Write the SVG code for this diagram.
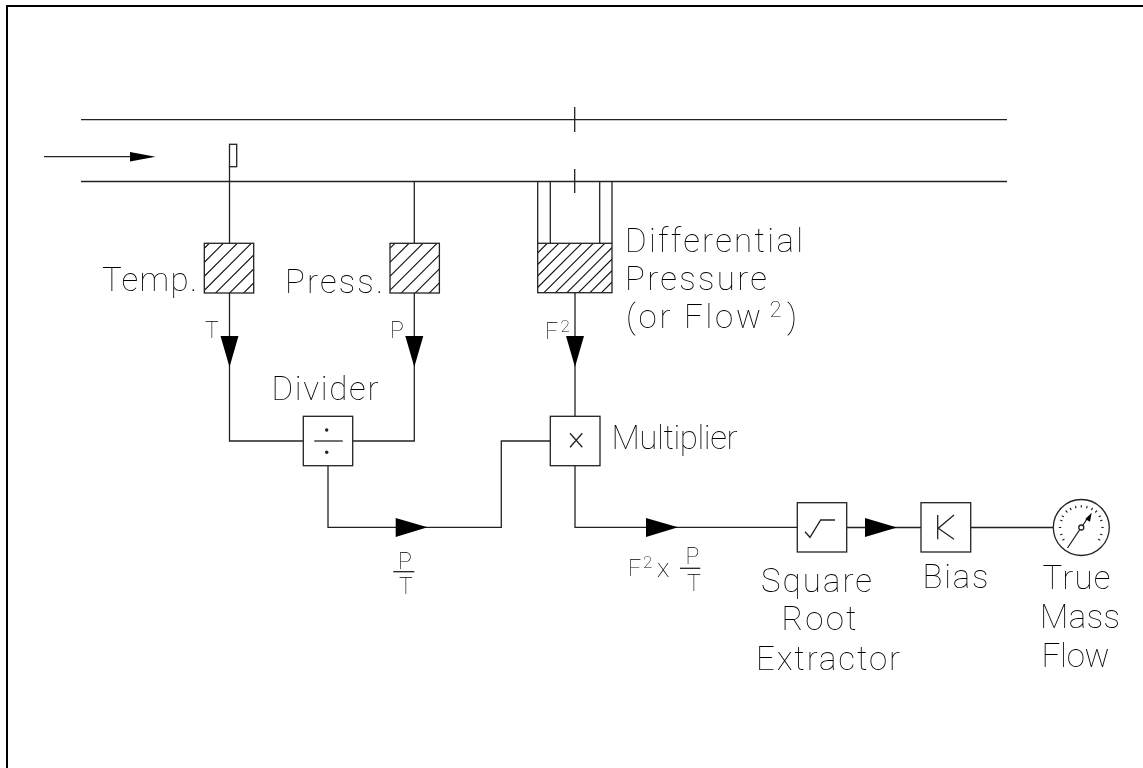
<svg xmlns="http://www.w3.org/2000/svg" width="1143" height="768" viewBox="0 0 1143 768">
<defs>
<style>
.l{fill:none;stroke:#222;stroke-width:1.3}
.b{fill:#fff;stroke:#222;stroke-width:1.3}
.h{fill:none;stroke:#222;stroke-width:1.3}
.x{fill:none;stroke:#111;stroke-width:1.1}
.a{fill:#000;stroke:none}
.d{fill:#222;stroke:none}
.t{font-family:"Roboto","Liberation Sans",sans-serif;font-weight:100;font-size:33px;fill:#000;filter:grayscale(1)}
.s{font-size:23px}
.u{font-size:17px}
</style>
<path id="hl" d="M0 0l-75 75M14 0l-75 75M28 0l-75 75M42 0l-75 75M56 0l-75 75M70 0l-75 75M84 0l-75 75M98 0l-75 75"/>
<path id="hw" d="M0 0l-75 75M11.5 0l-75 75M23 0l-75 75M34.5 0l-75 75M46 0l-75 75M57.5 0l-75 75M69 0l-75 75M80.5 0l-75 75M92 0l-75 75M103.5 0l-75 75M115 0l-75 75"/>
<clipPath id="c1"><rect x="204.3" y="243.3" width="49.4" height="49.7"/></clipPath>
<clipPath id="c2"><rect x="390" y="243.3" width="49.4" height="49.7"/></clipPath>
<clipPath id="c3"><rect x="537.7" y="243.3" width="74.3" height="49.4"/></clipPath>
</defs>
<rect width="1143" height="768" fill="#fff"/>
<path d="M7 768V6H1143" fill="none" stroke="#000" stroke-width="2"/>
<g id="connectors">
<path class="l" d="M81 119.7H1007M81 181.5H1007"/>
<path class="l" d="M574.7 107V132M574.7 169V193"/>
<path class="l" d="M44 156.7H130"/>
<path class="l" d="M229.5 166.7V243.3M229.5 293V441H303.3"/>
<path class="l" d="M414.3 181.5V243.3M414.3 293V441H352.7"/>
<path class="l" d="M537.7 181.5V243.3M550.3 181.5V243.3M599.7 181.5V243.3M612 181.5V243.3"/>
<path class="l" d="M575 292.7V416.3"/>
<path class="l" d="M328 465.7V527.3H501.3V441H550.3"/>
<path class="l" d="M575 465.7V527.3H797.3"/>
<path class="l" d="M846.7 527.5H921M970.7 527.5H1053.5"/>
<polygon class="a" points="130,152 155.5,156.7 130,161.5"/>
<polygon class="a" points="220.5,336 238.5,336 229.5,367"/>
<polygon class="a" points="405.3,336 423.3,336 414.3,367"/>
<polygon class="a" points="566,336 584,336 575,367"/>
<polygon class="a" points="395.7,518 427.5,527.3 395.7,537"/>
<polygon class="a" points="646,518 678,527.3 646,537"/>
<polygon class="a" points="865,518 897,527.5 865,537"/>
</g>
<g id="temp-probe"><rect class="b" x="229.5" y="144.3" width="7.2" height="22.4"/></g>
<g id="temp"><g clip-path="url(#c1)"><use href="#hl" class="x" x="209.3" y="243.3"/></g><rect class="h" x="204.3" y="243.3" width="49.4" height="49.7"/><text class="t" x="102" y="290.7" textLength="95">Temp.</text><text class="t s" x="205" y="337.5">T</text></g>
<g id="press"><g clip-path="url(#c2)"><use href="#hl" class="x" x="395" y="243.3"/></g><rect class="h" x="390" y="243.3" width="49.4" height="49.7"/><text class="t" x="285" y="292.7" textLength="98">Press.</text><text class="t s" x="390" y="338">P</text></g>
<g id="dp"><g clip-path="url(#c3)"><use href="#hw" class="x" x="547.3" y="243.3"/></g><rect class="h" x="537.7" y="243.3" width="74.3" height="49.4"/><text class="t" x="625" y="251.7" textLength="178">Differential</text><text class="t" x="625" y="290" textLength="142">Pressure</text><text class="t" x="626" y="328.3" textLength="135">(or Flow</text><text class="t" x="769.5" y="317" style="font-size:22px">2</text><text class="t" x="787" y="328.3">)</text><text class="t s" x="545" y="339">F</text><text class="t u" x="560.5" y="332">2</text></g>
<g id="divider"><rect class="b" x="303.3" y="416.3" width="49.4" height="49.4"/><path class="l" d="M314.3 441H342.7"/><circle class="d" cx="326.7" cy="430" r="1.7"/><circle class="d" cx="326.7" cy="452.3" r="1.7"/><text class="t" x="271.5" y="400" textLength="107">Divider</text></g>
<g id="multiplier"><rect class="b" x="550.3" y="416.3" width="49.7" height="49.4"/><path class="l" d="M570 433.3L582.3 447.3M582.3 433.3L570 447.3"/><text class="t" x="611.5" y="449" textLength="126">Multiplier</text></g>
<g id="pt"><text class="t s" x="398" y="569">P</text><path class="l" d="M393.3 571.7H414.3"/><text class="t s" x="399" y="594.3">T</text></g>
<g id="f2pt"><text class="t s" x="628" y="575.7">F</text><text class="t u" x="643" y="568.3">2</text><text class="t" x="657" y="576.7" style="font-size:26px">x</text><text class="t s" x="685.5" y="564.3">P</text><path class="l" d="M680 568.3H700.3"/><text class="t s" x="687" y="591">T</text></g>
<g id="sqrt"><rect class="b" x="797.3" y="502.7" width="49.4" height="49.3"/><path class="l" d="M805 531.7L810 537.3L820.7 520H835"/><text class="t" x="761" y="591.7" textLength="111">Square</text><text class="t" x="781.5" y="630" textLength="75">Root</text><text class="t" x="756" y="670" textLength="144">Extractor</text></g>
<g id="bias"><rect class="b" x="921" y="502.7" width="49.7" height="49.3"/><path class="l" d="M937.7 515V539.3M954 515L938.3 528.3L954 539.3"/><text class="t" x="922.5" y="588.3" textLength="66">Bias</text></g>
<g id="gauge"><circle class="b" cx="1081.3" cy="527.5" r="28"/>
<g stroke="#222" stroke-width="1.2" stroke-linecap="round">
<path d="M1059.3 527.5h1.5M1101.8 527.5h1.5M1081.3 505.5v1.5"/>
<path d="M1060.6 520.3l1.4.5M1062.2 516l1.3.7M1066 511l1.1 1.1M1070.3 508.4l.7 1.3M1075.6 506.3l.3 1.5M1087 506.3l-.3 1.5M1092.3 508.4l-.7 1.3M1096.6 511l-1.1 1.1M1100.4 516l-1.3.7M1102 520.3l-1.4.5M1102 534.7l-1.4-.5M1099.8 540l-1.3-.7M1060.6 534.7l1.4-.5M1062.8 540l1.3-.7"/></g>
<path class="l" d="M1067.5 548L1079.5 530M1083 525L1087 519"/><circle class="b" cx="1081.3" cy="527.5" r="2.5"/><polygon class="a" points="1091.7,512.7 1090,521.7 1085.3,519"/><text class="t" x="1042.5" y="589" textLength="68">True</text><text class="t" x="1040" y="628.3" textLength="80">Mass</text><text class="t" x="1041.5" y="666.7" textLength="68">Flow</text></g>
</svg>
